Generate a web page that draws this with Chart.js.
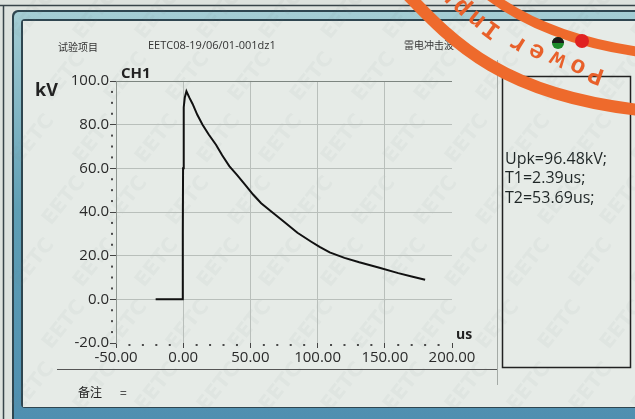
<!DOCTYPE html>
<html>
<head>
<meta charset="utf-8">
<script src="https://cdn.jsdelivr.net/npm/chart.js@4/dist/chart.umd.min.js"></script>
<style>
body { margin: 0; background: #dde2de; }
canvas { display: block; }
</style>
</head>
<body>
<canvas id="WaveChart" width="635" height="419"></canvas>
<script>
// 冲击波形
var time_us = [-20.5, -0.4, -0.3, -0.1, 0.4, 1.2, 2.4, 4.5, 7, 10.5, 14.4, 19, 24.4, 29, 34.3, 40, 46, 52, 58, 66, 75, 85, 95, 101.5, 109, 120, 131, 146, 160, 170, 180];
var volt_kv = [0, 0, 30, 60, 88, 92.5, 95.3, 92.5, 89.5, 84.5, 80, 75.5, 70.8, 66, 61, 57, 52.5, 48, 44, 40, 35.5, 30.5, 26.5, 24, 21.5, 19, 17, 14.5, 12, 10.5, 9];
var x_ticks = [-50, 0, 50, 100, 150, 200];
var y_ticks = [-20, 0, 20, 40, 60, 80, 100];
var result_text = ['Upk=96.48kV;', 'T1=2.39us;', 'T2=53.69us;'];
var header_text = ['试验项目', 'EETC08-19/06/01-001dz1', '雷电冲击波'];

var wavedata = [];
for (let i = 0; i < time_us.length; i++) {
    wavedata.push({ x: time_us[i], y: volt_kv[i] });
}

function drawframe(ctx) {
    // 屏幕外框 + 蓝色边
    ctx.fillStyle = '#dde2de';
    ctx.fillRect(0, 0, 635, 419);
    ctx.strokeStyle = '#38444a';
    ctx.lineWidth = 1.5;
    ctx.beginPath();
    ctx.moveTo(0, 5.5); ctx.lineTo(635, 5.5);
    ctx.moveTo(3.5, 5); ctx.lineTo(3.5, 419);
    ctx.stroke();

    ctx.fillStyle = '#2f4650';
    ctx.beginPath(); ctx.roundRect(12, 10, 640, 420, 6); ctx.fill();
    let g = ctx.createLinearGradient(0, 0, 0, 419);
    g.addColorStop(0, '#a9d0d6');
    g.addColorStop(0.5, '#5f9fb5');
    g.addColorStop(1, '#4f8fb0');
    ctx.fillStyle = g;
    ctx.beginPath(); ctx.roundRect(14, 12, 640, 420, 5); ctx.fill();
    ctx.fillStyle = '#2f4650';
    ctx.beginPath(); ctx.roundRect(21, 19, 640, 389, 4); ctx.fill();
    ctx.fillStyle = '#e6ebe7';
    ctx.fillRect(23, 21, 640, 386);

    // 水印
    ctx.save();
    ctx.fillStyle = 'rgba(120,135,130,0.06)';
    ctx.font = 'bold 20px "DejaVu Sans"';
    for (let gx = 0; gx < 700; gx += 62) {
        for (let gy = 40; gy < 440; gy += 62) {
            ctx.save();
            ctx.translate(gx + ((gy / 62) % 2) * 31, gy);
            ctx.rotate(-0.9);
            ctx.fillText('EETC', 0, 0);
            ctx.restore();
        }
    }
    ctx.restore();
}

function drawextra(chart) {
    let ctx = chart.ctx;
    let xs = chart.scales.x;
    let ys = chart.scales.y;
    ctx.save();

    // 小刻度
    ctx.fillStyle = '#4a4a4a';
    for (let v = -20; v <= 100; v += 5) {
        if (v % 20 != 0) ctx.fillRect(ys.right - 5, ys.getPixelForValue(v) - 1, 2, 2);
    }
    for (let v = -50; v <= 200; v += 10) {
        if (v % 50 != 0) ctx.fillRect(xs.getPixelForValue(v) - 1, xs.top + 1, 2, 2);
    }

    // 表头文字
    ctx.fillStyle = '#333';
    ctx.textBaseline = 'middle';
    ctx.font = '10px "Noto Sans CJK SC"';
    ctx.fillText(header_text[0], 58, 47);
    ctx.font = '11px "Open Sans"';
    ctx.fillText(header_text[1], 148, 46);
    ctx.font = '10px "Noto Sans CJK SC"';
    ctx.fillText(header_text[2], 404, 45);

    ctx.fillStyle = '#222';
    ctx.font = 'bold 18px "Open Sans"';
    ctx.fillText('kV', 35, 91);
    ctx.font = 'bold 15px "Open Sans"';
    ctx.fillText('CH1', 121, 74);
    ctx.font = 'bold 14px "Open Sans"';
    ctx.fillText('us', 456, 335);
    ctx.font = '12px "Noto Sans CJK SC"';
    ctx.fillText('备注', 78, 392);
    ctx.fillText('=', 120, 392);

    // 分隔线
    ctx.strokeStyle = '#555';
    ctx.lineWidth = 1;
    ctx.beginPath();
    ctx.moveTo(57, 369.5); ctx.lineTo(498, 369.5);
    ctx.stroke();
    ctx.strokeStyle = '#a4aaa6';
    ctx.beginPath();
    ctx.moveTo(497.5, 60); ctx.lineTo(497.5, 385);
    ctx.stroke();

    // 结果框
    ctx.strokeStyle = '#222';
    ctx.lineWidth = 1.5;
    ctx.strokeRect(502.5, 76.5, 128, 291);
    ctx.fillStyle = '#1f2626';
    ctx.font = '16px "Open Sans"';
    for (let i = 0; i < result_text.length; i++) {
        ctx.fillText(result_text[i], 505, 159 + i * 19.5);
    }

    // 印章
    ctx.strokeStyle = '#ee6a2c';
    ctx.lineWidth = 12;
    ctx.beginPath();
    ctx.moveTo(405, -8);
    ctx.bezierCurveTo(455, 45, 505, 95, 640, 110);
    ctx.stroke();
    ctx.lineWidth = 10;
    ctx.beginPath();
    ctx.moveTo(485, -8);
    ctx.bezierCurveTo(520, 20, 570, 42, 640, 52);
    ctx.stroke();

    let stamp = [['P', 596, 74, 200], ['o', 578, 66, 204], ['w', 558, 59, 206], ['e', 537, 51, 208], ['r', 518, 43, 212],
                 ['I', 492, 29, 216], ['n', 477, 19, 220], ['p', 462, 7, 224], ['u', 448, -5, 228]];
    ctx.fillStyle = '#e8602a';
    ctx.font = 'bold 25px "Liberation Mono"';
    ctx.textAlign = 'center';
    for (let i = 0; i < stamp.length; i++) {
        ctx.save();
        ctx.translate(stamp[i][1], stamp[i][2]);
        ctx.rotate(stamp[i][3] * Math.PI / 180);
        ctx.fillText(stamp[i][0], 0, 0);
        ctx.restore();
    }
    ctx.fillStyle = '#1d8a2a';
    ctx.beginPath(); ctx.arc(558, 43, 6, 0, Math.PI * 2); ctx.fill();
    ctx.fillStyle = '#1a1a1a';
    ctx.beginPath(); ctx.arc(558, 43, 6, Math.PI, Math.PI * 2); ctx.fill();
    ctx.fillStyle = '#e02222';
    ctx.beginPath(); ctx.arc(582, 41, 7, 0, Math.PI * 2); ctx.fill();

    ctx.restore();
}

var decor = {
    id: 'decor',
    beforeDraw: function (chart) { drawframe(chart.ctx); },
    afterDraw: function (chart) { drawextra(chart); }
};

var WaveChart = new Chart(document.getElementById('WaveChart'), {
    type: 'line',
    data: {
        datasets: [{
            data: wavedata,
            borderColor: '#111',
            borderWidth: 2,
            pointRadius: 0,
            tension: 0,
            fill: false
        }]
    },
    options: {
        responsive: false,
        animation: false,
        layout: { padding: { left: 0, top: 81, right: 183, bottom: 49 } },
        plugins: { legend: { display: false }, tooltip: { enabled: false } },
        scales: {
            x: {
                type: 'linear',
                min: -50,
                max: 200,
                afterBuildTicks: function (scale) { scale.ticks = x_ticks.map(function (v) { return { value: v }; }); },
                afterFit: function (scale) { scale.height = 27; },
                ticks: {
                    color: '#2a2a2a',
                    font: { family: 'Open Sans', size: 15 },
                    padding: 1,
                    maxRotation: 0,
                    callback: function (v) { return Number(v).toFixed(2); }
                },
                grid: {
                    color: function (c) { return (c.tick && c.tick.value > -50 && c.tick.value < 200) ? '#b9bfbb' : 'rgba(0,0,0,0)'; },
                    tickColor: '#444',
                    tickLength: 5
                },
                border: { display: false }
            },
            y: {
                min: -20,
                max: 100,
                afterBuildTicks: function (scale) { scale.ticks = y_ticks.map(function (v) { return { value: v }; }); },
                afterFit: function (scale) { scale.width = 116; },
                ticks: {
                    color: '#2a2a2a',
                    font: { family: 'Open Sans', size: 15 },
                    padding: 1,
                    callback: function (v) { return Number(v).toFixed(1); }
                },
                grid: {
                    color: function (c) {
                        if (!c.tick) return 'rgba(0,0,0,0)';
                        if (c.tick.value == 100) return '#7d8580';
                        if (c.tick.value == -20) return 'rgba(0,0,0,0)';
                        return '#b9bfbb';
                    },
                    tickColor: '#444',
                    tickLength: 6
                },
                border: { display: true, color: '#8e9590', width: 1 }
            }
        }
    },
    plugins: [decor]
});
</script>
</body>
</html>
